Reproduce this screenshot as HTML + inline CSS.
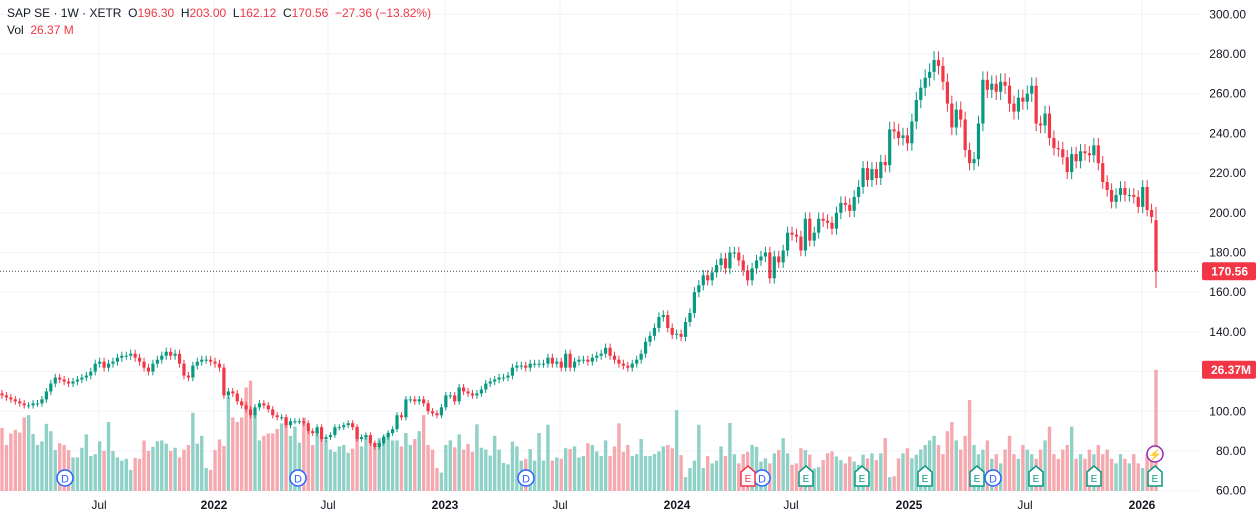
<!DOCTYPE html>
<html><head><meta charset="utf-8">
<style>
html,body{margin:0;padding:0;background:#fff;}
body{width:1256px;height:518px;overflow:hidden;position:relative;font-family:"Liberation Sans",sans-serif;}
svg{position:absolute;left:0;top:0;}
#hdr{position:absolute;left:7px;top:5px;font-size:12px;color:#131722;line-height:17px;}
#hdr .r{color:#f23645;}
</style></head><body>
<svg id="chart" width="1256" height="518"></svg>
<div id="hdr">
<div>SAP SE · 1W · XETR&nbsp;&nbsp;O<span class="r">196.30</span>&nbsp;&nbsp;H<span class="r">203.00</span>&nbsp;&nbsp;L<span class="r">162.12</span>&nbsp;&nbsp;C<span class="r">170.56</span>&nbsp;&nbsp;<span class="r">−27.36 (−13.82%)</span></div>
<div>Vol&nbsp;&nbsp;<span class="r">26.37 M</span></div>
</div>
<script>
const closes = [108,107,106,105,104,103,103,104,104,106,110,114,117,116,115,114,115,116,117,118,120,124,125,122,124,125,127,128,128,129,127,125,122,120,124,126,128,130,128,129,124,118,117,123,125,126,126,125,124,122,108,110,109,105,103,101,
98,102,104,103,101,98,97,97,93,95,95,95,94,90,89,92,86,87,88,92,92,93,94,92,86,87,88,84,82,84,87,89,91,98,97,106,106,105,106,104,100,99,98,102,108,108,105,112,110,109,108,109,111,114,115,116,117,
117,118,122,123,123,122,124,124,124,124,127,124,125,122,129,122,125,126,126,125,127,128,129,132,128,126,124,123,122,124,126,129,135,138,142,147.5,148.5,142,138.5,139,137.5,145,149.5,160,163.5,168.5,166,170,173.7,177,172,180,180,176,171,166,172,
176,178,180,167,178,175,181,190,189,188,181,197,186,190,197,196,195,192,200,205,204,201,208,213,222.5,216.5,222,217.5,225.6,224,242,241,237.7,239,235,246,256.8,
263,268,271,277,274,266,255,243,252,247,231.6,225,227,245,267,262,265,261,266,264,255,251,258,256,260,264,245,244,250,237.7,232.6,232,228,220.5,229.6,226,231,230,229,234,225,215.5,211.5,205.5,209,212.5,209,209,208,203,213,201.4,197.92,170.56];
const volumes = [13.7,10,12.5,13.3,12.7,16,16.5,12.4,10,10.8,14.6,13,8.9,10.4,10,8.9,7.3,7.3,9.4,12.3,7.6,8,10.8,8.7,15,8.7,7.3,6.6,7,4.6,7.2,7,11,8.7,9.6,10.8,11,10.3,8.7,9.4,7.3,9,10,17,10.3,12,5,4.6,8.9,11.2,9.8,20.5,16,15,16,22.5,
24,17,11,12,12.5,12.5,13.5,14.7,16,12,14,10.5,16,13,10,13,12,11,9,8.5,9.7,10,8.3,9.2,14,9.7,12,11,10.5,11.5,12,12.7,11,11,9.7,12.6,10,11.3,13,16.5,10,9,5,4,10,11,9.5,12.3,9,10.2,8.5,14.5,9.4,9,7.7,12,9,
6.1,5.8,10.7,9.7,6.6,7,9.1,6.6,12.6,6.6,14.4,6.6,7.3,7,9.3,9.1,9.7,7.3,7.6,10.4,10,8.6,7.6,11,7.6,9.7,14.7,8.5,10,7.6,8,11.3,7.6,7.6,8,8.6,9.7,10,9.3,17.6,7.8,3,5,6.6,14.4,5,7.6,6,6.6,9.7,7.6,14.8,8,6,8,8.5,10,
9.6,6.4,7.1,6,8.2,8.9,11.5,8.2,5.7,6,9.3,8.9,7.9,4.9,5.2,6.7,8.2,8.6,7.5,6.7,6,7.5,6.4,5.7,7.9,7.1,8.2,6.7,8.2,11.5,3,3.2,7.1,8.2,9.3,7.1,7.9,
9,10,11,12,10,8,13,15,11,9,12,19.8,10,8,9,11,7,8,6,9,12,8,7,10,9,8,7,9,11,14,8,7,9,10,14,7,8,7,9,8,10,8,9,7,6,8,7,6,8,6,5,8,9,26.37];
const firstOpen = 109;
const lastHigh = 203.0, lastLow = 162.12, lastOpen = 196.3;
const priceTicks = [300,280,260,240,220,200,180,160,140,120,100,80,60];
const timeLabels = ["Jul","2022","Jul","2023","Jul","2024","Jul","2025","Jul","2026"];
const timeLabelX = [99,214,328,445,560,677,791,909,1025,1142];
const dividendX = [65,298,526,762,993];
const earningsX = [748,806,862,925,977,1036,1094,1155];

const NS="http://www.w3.org/2000/svg";
const svg=document.getElementById('chart');
const PLOT_R=1200, PLOT_B=491;
const yP=p=>54+(280-p)*1.985;
const n=closes.length;
const xI=i=>2+i*(1156-2)/(n-1);
const yV=v=>PLOT_B-v*4.6;
function mk(tag,attrs,parent){const e=document.createElementNS(NS,tag);for(const k in attrs)e.setAttribute(k,attrs[k]);(parent||svg).appendChild(e);return e;}

const grid=mk('g',{});


priceTicks.forEach(p=>{mk('line',{x1:0,x2:PLOT_R,y1:yP(p),y2:yP(p),stroke:'#f0f3fa','stroke-width':1},grid);});
timeLabelX.forEach(x=>{mk('line',{x1:x,x2:x,y1:0,y2:PLOT_B,stroke:'#f0f3fa','stroke-width':1},grid);});

const vg=mk('g',{});


for(let i=0;i<n;i++){
  const o=i===0?firstOpen:(i===n-1?lastOpen:closes[i-1]);
  const up=closes[i]>=o;
  const r=mk('rect',{x:xI(i)-1.7,y:yV(volumes[i]),width:3.4,height:volumes[i]*4.6,fill:up?'#8fd1c6':'#f5a9ae'},vg);
  
  
}

const cg=mk('g',{});


for(let i=0;i<n;i++){
  const o=i===0?firstOpen:(i===n-1?lastOpen:closes[i-1]);
  const c=closes[i];
  const up=c>=o;
  const col=up?'#089981':'#f23645';
  const hi=i===n-1?lastHigh:Math.max(o,c)*1.016;
  const lo=i===n-1?lastLow:Math.min(o,c)*0.984;
  const x=xI(i);
  const g=mk('g',{},cg);
  
  
  mk('line',{x1:x,x2:x,y1:yP(hi),y2:yP(lo),stroke:col,'stroke-width':1},g);
  const t=Math.min(yP(o),yP(c)),h=Math.max(1,Math.abs(yP(o)-yP(c)));
  mk('rect',{x:x-1.6,y:t,width:3.2,height:h,fill:col},g);
}

const lp=mk('line',{x1:0,x2:PLOT_R,y1:yP(170.56),y2:yP(170.56),stroke:'#444','stroke-width':1,'stroke-dasharray':'1,2'});



const ax=mk('g',{'font-family':'Liberation Sans, sans-serif','font-size':12,fill:'#131722'});


priceTicks.forEach(p=>{const t=mk('text',{x:1246,y:yP(p)+4,'text-anchor':'end'},ax);t.textContent=p.toFixed(2);

});

const b1=mk('g',{});


mk('rect',{x:1202,y:yP(170.56)-9,width:54,height:18,fill:'#f23645',rx:2},b1);
const bt=mk('text',{x:1248,y:yP(170.56)+4.5,'text-anchor':'end','font-size':12,'font-weight':'bold',fill:'#fff'},b1);bt.textContent='170.56';
const b2=mk('g',{});


mk('rect',{x:1202,y:yV(26.37)-9,width:54,height:18,fill:'#f23645',rx:2},b2);
const bt2=mk('text',{x:1251,y:yV(26.37)+4.5,'text-anchor':'end','font-size':12,'font-weight':'bold',fill:'#fff'},b2);bt2.textContent='26.37M';

const tx=mk('g',{'font-size':12,fill:'#131722'});


timeLabels.forEach((l,i)=>{const t=mk('text',{x:timeLabelX[i],y:509,'text-anchor':'middle','font-weight':/^\d/.test(l)?'bold':'normal'},tx);t.textContent=l;

});

dividendX.forEach(x=>{const g=mk('g',{});


mk('circle',{cx:x,cy:478,r:8,fill:'#fff',stroke:'#2962ff','stroke-width':1.5},g);
const t=mk('text',{x:x,y:482.5,'text-anchor':'middle','font-size':11,fill:'#2962ff'},g);t.textContent='D';});

earningsX.forEach((x,i)=>{const g=mk('g',{});


const col=i===0?'#f23645':'#089981';
mk('path',{d:`M${x-7},${472} L${x},${466} L${x+7},${472} L${x+7},${486} L${x-7},${486} Z`,fill:'#fff',stroke:col,'stroke-width':1.5},g);
const t=mk('text',{x:x,y:482,'text-anchor':'middle','font-size':10,fill:col},g);t.textContent='E';});

const sm=mk('g',{});


mk('circle',{cx:1155,cy:454,r:8,fill:'#fff',stroke:'#9c27b0','stroke-width':1.5},sm);
const st=mk('text',{x:1155,y:458.5,'text-anchor':'middle','font-size':11,fill:'#9c27b0'},sm);st.textContent='⚡';
</script>
</body></html>
